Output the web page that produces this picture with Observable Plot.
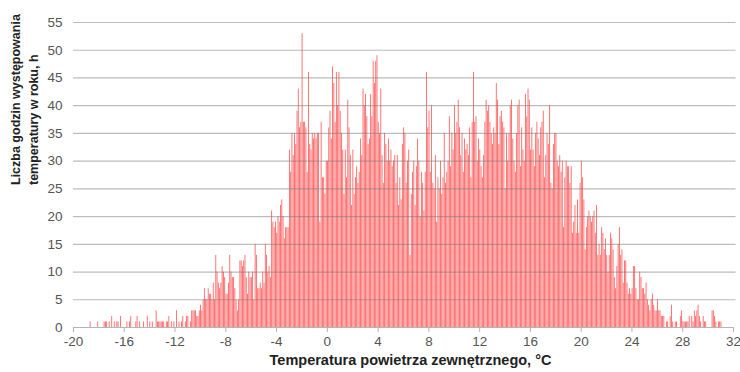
<!DOCTYPE html>
<html>
<head>
<meta charset="utf-8">
<script src="https://cdn.jsdelivr.net/npm/d3@7"></script>
<script src="https://cdn.jsdelivr.net/npm/@observablehq/plot@0.6"></script>
<style>
  html, body { margin: 0; padding: 0; background: #fff; }
  #chart { width: 740px; height: 372px; }
</style>
</head>
<body>
<div id="chart"></div>
<script>
// Hours per year for 0.1 °C temperature bins, first bin starts at -19.0 °C
const binStart = -19.0;
const binWidth = 0.1;

// -19.0 … -10.1 °C
const coldTail = [
  0,0,0,1,0,0,0,0,0,1,
  0,0,0,0,1,1,1,0,1,0,
  2,0,1,0,1,1,0,2,0,0,
  0,0,1,0,1,2,0,0,0,1,
  2,0,1,0,0,1,0,0,2,0,
  1,0,1,0,0,3,1,1,1,1,
  1,1,0,1,1,2,0,1,0,1,
  0,3,0,1,0,1,2,0,1,2,
  2,0,1,3,3,3,3,2,2,3
];
// -10.0 … -2.1 °C
const rising = [
  4,3,5,7,5,5,7,6,6,5,
  8,5,13,10,8,7,8,11,10,9,
  6,6,8,13,10,9,9,7,5,3,
  5,12,12,11,12,13,9,6,10,9,
  9,10,5,15,13,7,7,8,7,10,
  8,15,13,10,11,9,21,19,18,19,
  17,20,19,22,23,20,16,18,18,18,
  32,28,35,31,35,33,39,43,36,37
];
// -2.0 … 5.9 °C
const coreA = [
  53,37,37,36,28,46,33,32,35,34,
  35,34,35,35,19,37,27,27,24,30,
  30,36,39,34,47,44,37,46,40,46,
  39,35,32,24,32,27,41,36,31,22,
  32,24,27,29,26,28,34,31,43,40,
  42,38,33,34,42,38,48,44,48,49,
  37,35,43,31,26,35,33,30,34,30,
  32,29,30,31,26,31,22,27,23,33
];
// 6.0 … 13.9 °C
const coreB = [
  36,35,26,30,32,13,24,28,30,22,
  29,34,30,20,28,26,21,28,46,36,
  39,28,40,26,25,31,19,27,25,30,
  24,27,35,26,28,30,38,29,35,32,
  40,35,37,41,36,31,35,28,34,32,
  33,31,36,27,37,46,37,38,30,34,
  32,29,27,31,37,41,39,40,37,35,
  33,36,35,44,41,33,38,39,37,36
];
// 14.0 … 21.9 °C
const coreC = [
  25,35,30,35,40,41,34,30,28,35,
  40,41,29,36,32,30,42,38,43,41,
  32,36,32,29,35,37,34,31,36,37,
  39,27,31,35,33,40,26,25,33,35,
  35,30,29,31,28,30,18,27,30,29,
  29,26,29,17,19,22,17,23,17,26,
  30,27,23,14,18,20,21,20,19,20,
  21,17,22,13,15,13,18,17,14,16
];
// 22.0 … 31.0 °C
const warmTail = [
  13,10,13,17,16,14,9,7,11,15,
  18,13,14,8,12,12,8,6,7,6,
  7,11,11,7,5,5,10,9,7,7,
  6,8,5,4,3,5,6,4,3,3,
  5,3,3,2,2,2,0,1,1,0,
  2,4,1,0,1,1,0,0,2,3,
  1,1,1,1,1,2,0,2,1,3,
  2,3,4,2,1,0,2,1,1,0,
  0,0,0,3,3,2,1,0,1,1,
  1
];

const xTicks = [-20,-16,-12,-8,-4,0,4,8,12,16,20,24,28,32];
const yTicks = [0,5,10,15,20,25,30,35,40,45,50,55];
const yTitle1 = "Liczba godzin występowania";
const yTitle2 = "temperatury w roku, h";
const xTitle = "Temperatura powietrza zewnętrznego, °C";

const hours = [...coldTail, ...rising, ...coreA, ...coreB, ...coreC, ...warmTail];
const bins = hours.map((h, i) => ({t0: Math.round(binStart * 10 + i) / 10, h}));

const chart = Plot.plot({
  width: 740,
  height: 372,
  marginLeft: 73,
  marginRight: 7,
  marginTop: 22,
  marginBottom: 45,
  style: {fontFamily: "'Liberation Sans', Arial, sans-serif", background: "#fff", overflow: "visible"},
  x: {domain: [-20, 32]},
  y: {domain: [0, 55]},
  marks: [
    Plot.rectY(bins, {
      x1: d => d.t0,
      x2: d => d.t0 + binWidth,
      y: "h",
      fill: "#ff6262",
      insetLeft: 0.2,
      insetRight: 0.2
    }),
    Plot.ruleY(yTicks.filter(v => v > 0), {stroke: "#7a7a7a", strokeOpacity: 0.5, strokeWidth: 1.2, x1: -20, x2: 32.2}),
    Plot.ruleY([0], {stroke: "#b5b5b5", strokeWidth: 1.2}),
    Plot.axisX({
      ticks: xTicks, tickSize: 5, tickPadding: 4, fontSize: 13.5,
      stroke: "#b5b5b5", fill: "#555", label: null, tickFormat: d => `${d}`
    }),
    Plot.axisY({
      ticks: yTicks, tickSize: 0, tickPadding: 11, fontSize: 13.5,
      fill: "#555", label: null, tickFormat: d => `${d}`
    }),
    Plot.text([yTitle1], {
      frameAnchor: "left", dx: -58, dy: 10, rotate: -90,
      fontWeight: "bold", fontSize: 12.5, fill: "#222"
    }),
    Plot.text([yTitle2], {
      frameAnchor: "left", dx: -40, dy: 10, rotate: -90,
      fontWeight: "bold", fontSize: 12.5, fill: "#222"
    }),
    Plot.text([xTitle], {
      frameAnchor: "bottom", dx: 7, dy: 37,
      fontWeight: "bold", fontSize: 14.5, fill: "#222"
    })
  ]
});

document.getElementById("chart").appendChild(chart);
</script>
</body>
</html>
